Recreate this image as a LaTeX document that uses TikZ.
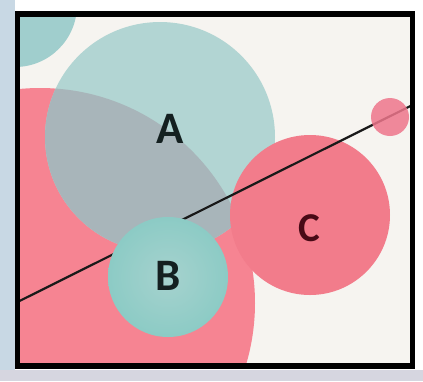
\documentclass[tikz,border=0pt]{standalone}
\usepackage{fontspec}
\setmainfont{Carlito}
\begin{document}
\begin{tikzpicture}[x=1pt,y=-1pt]
\definecolor{bg}{RGB}{246,244,240}
\definecolor{leftstrip}{RGB}{200,216,228}
\definecolor{bottomstrip}{RGB}{214,214,224}
\definecolor{tealsmall}{RGB}{160,206,205}
\definecolor{pinkbig}{RGB}{246,132,146}
\definecolor{teallight}{RGB}{178,213,211}
\definecolor{tealgray}{RGB}{168,181,186}
\definecolor{pinkc}{RGB}{242,124,139}
\definecolor{pinksmall}{RGB}{238,118,140}
\definecolor{tealbin}{RGB}{166,210,206}
\definecolor{tealbout}{RGB}{140,203,197}
\definecolor{labeldark}{RGB}{20,32,32}
\definecolor{labelc}{RGB}{72,10,22}
\tikzset{
  frameline/.style={line width=5.5pt, draw=black},
  connector/.style={line width=2.2pt, draw=black!90},
  biglabel/.style={font=\bfseries\fontsize{45}{45}\selectfont, inner sep=0pt},
}
\useasboundingbox (0,0) rectangle (423,381);
\fill[white] (0,0) rectangle (423,381);
\fill[leftstrip] (0,0) rectangle (15,381);
\fill[bottomstrip] (0,370) rectangle (423,381);
\coordinate (F1) at (17.5,14);
\coordinate (F2) at (412.5,366);
\fill[bg] (F1) rectangle (F2);
\coordinate (L1) at (17.5,302);
\coordinate (L2) at (412.5,105);
\begin{scope}
  \clip (F1) rectangle (F2);
  \fill[tealsmall] (15,5) circle[radius=62pt];
  \fill[pinkbig] (40,303) circle[radius=215pt];
  \fill[teallight] (160,137) circle[radius=115pt];
  \begin{scope}
    \clip (160,137) circle[radius=115pt];
    \fill[tealgray] (40,303) circle[radius=215pt];
  \end{scope}
  \fill[pinkc] (310,215) circle[radius=80pt];
  \draw[connector] (L1) -- (L2);
  \fill[pinksmall, opacity=0.85] (390,117) circle[radius=19pt];
  \shade[inner color=tealbin, outer color=tealbout] (168,277) circle[radius=60pt];
\end{scope}
\draw[frameline] (F1) rectangle (F2);
\node[biglabel, text=labeldark] (labA) at (170,129) {A};
\node[biglabel, text=labeldark] (labB) at (168,276) {B};
\node[biglabel, text=labelc, font=\bfseries\fontsize{41}{41}\selectfont] (labC) at (309,228) {C};
\end{tikzpicture}
\end{document}
